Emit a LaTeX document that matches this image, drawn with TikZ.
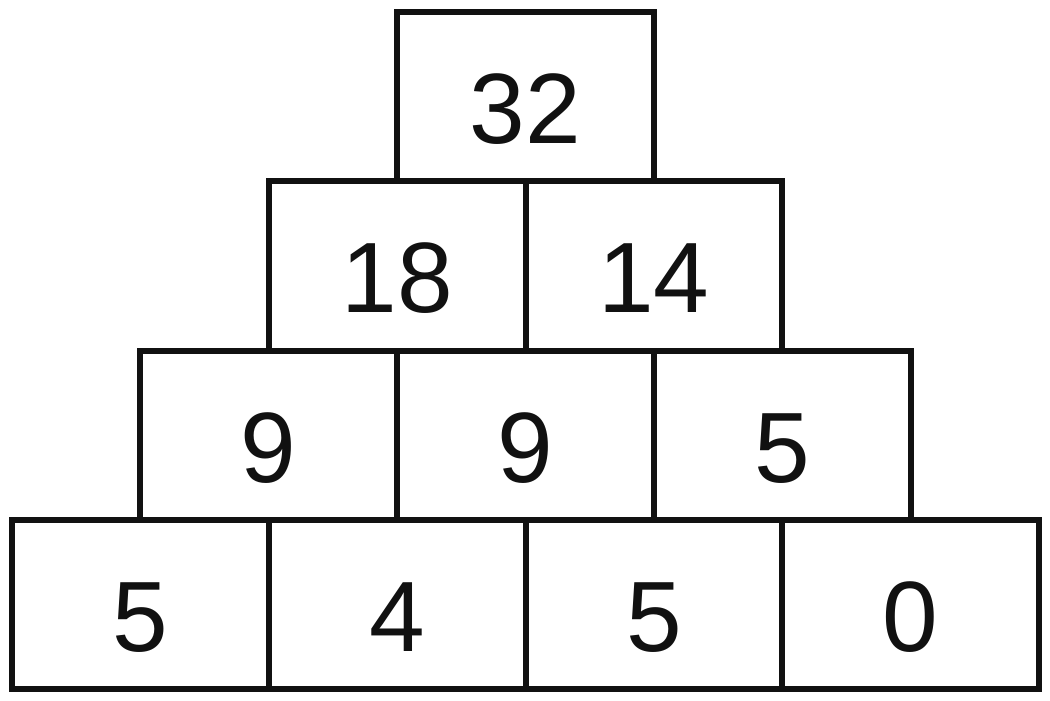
\documentclass[tikz,border=0pt]{standalone}
\usepackage{fontspec}
\setmainfont{Liberation Sans}
\definecolor{ink}{HTML}{111111}
\begin{document}
\begin{tikzpicture}[x=1pt,y=-1pt,
  cell/.style={draw=ink, line width=6pt, rectangle, inner sep=0pt, outer sep=0pt,
    minimum width=256.75pt, minimum height=169.25pt,
    text=ink, text height=94pt, text depth=0pt,
    font=\fontsize{100}{110}\selectfont}]
\useasboundingbox (0,0) rectangle (1050,701);
% row 4 (bottom)
\node[cell] (d1) at (140.375,604.375) {5};
\node[cell] (d2) at (397.125,604.375) {4};
\node[cell] (d3) at (653.875,604.375) {5};
\node[cell] (d4) at (910.625,604.375) {0};
% row 3
\node[cell] (c1) at (268.75,435.125) {9};
\node[cell] (c2) at (525.5,435.125) {9};
\node[cell] (c3) at (782.25,435.125) {5};
% row 2
\node[cell] (b1) at (397.125,265.875) {18};
\node[cell] (b2) at (653.875,265.875) {14};
% row 1
\node[cell] (a1) at (525.5,96.625) {32};
\end{tikzpicture}
\end{document}
